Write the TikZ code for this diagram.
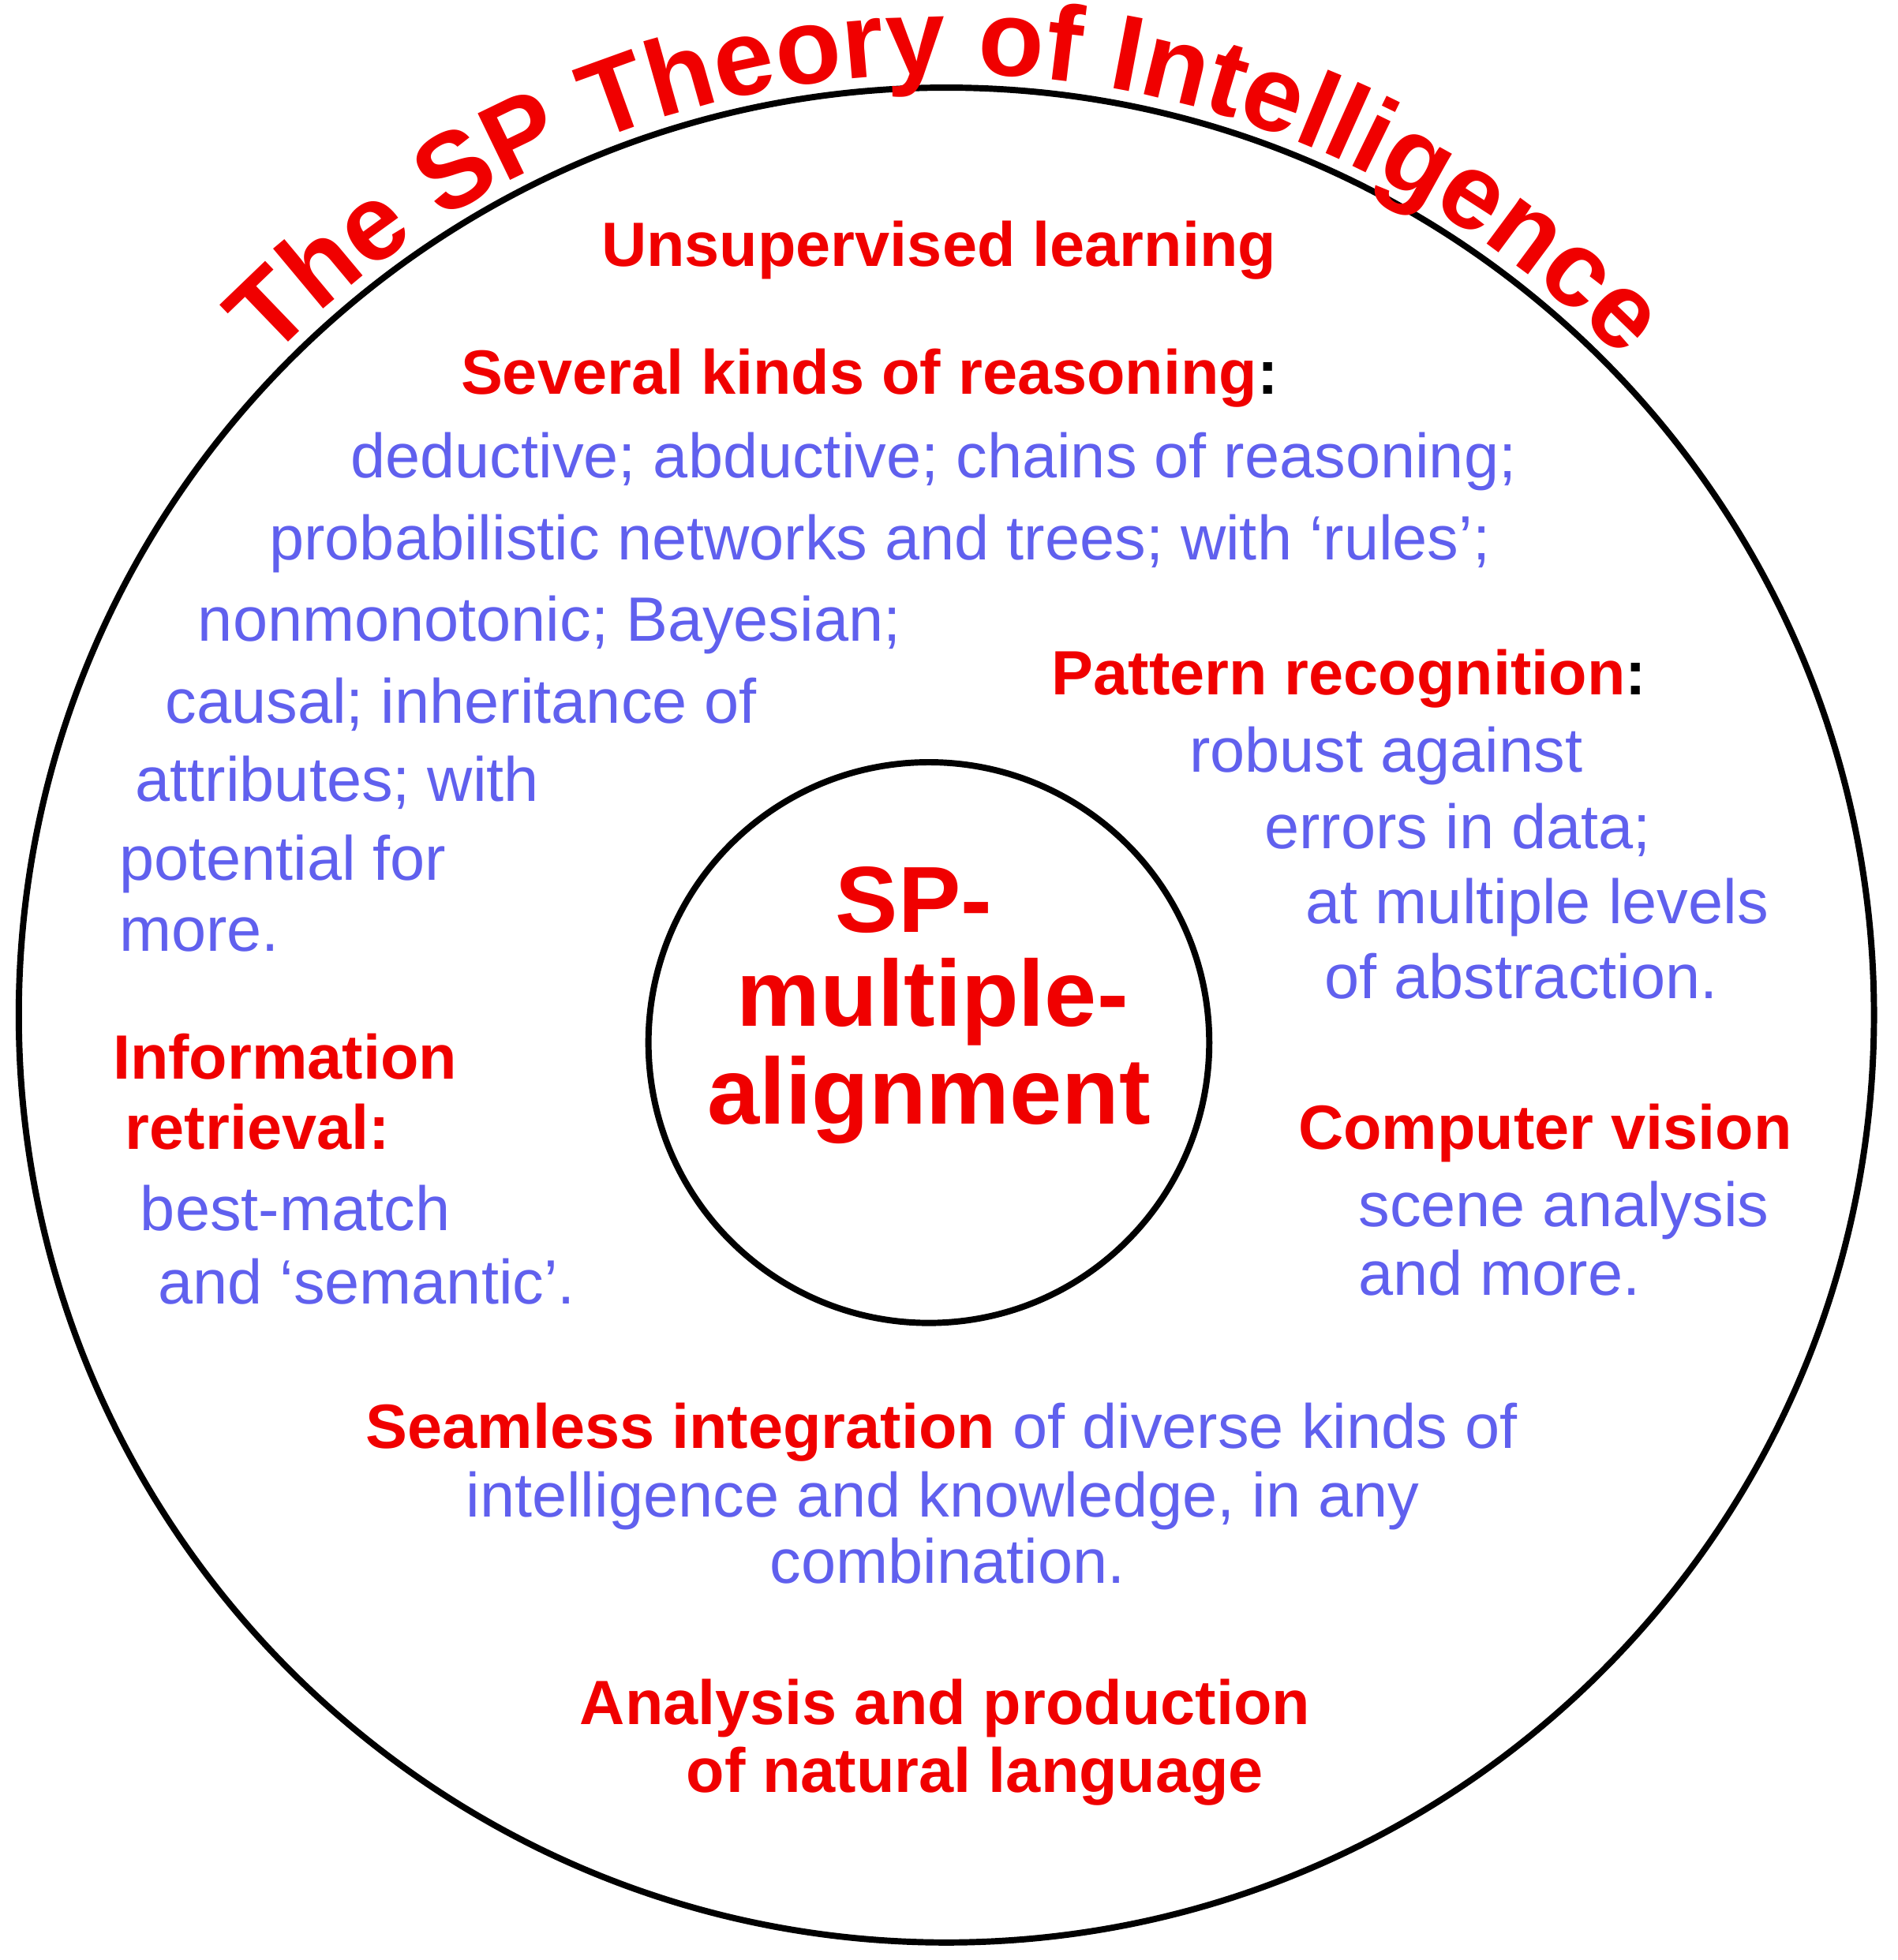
\documentclass[tikz,border=0pt]{standalone}
\usepackage{fontspec}
\setmainfont{Liberation Sans}
\usetikzlibrary{decorations.text}
\definecolor{tred}{RGB}{240,0,0}
\definecolor{tblue}{RGB}{96,96,238}
\newcommand{\bodysz}{\fontsize{50}{56}\selectfont}
\begin{document}
\begin{tikzpicture}[x=1pt,y=-1pt,
  rt/.style={anchor=base west,inner sep=0pt,text=tred,font=\bodysz\bfseries},
  bt/.style={anchor=base west,inner sep=0pt,text=tblue,font=\bodysz},
  ct/.style={anchor=base,inner sep=0pt,text=tred,font=\fontsize{75}{80}\selectfont\bfseries}]
\useasboundingbox (0,0) rectangle (1516,1566);
\coordinate (C) at (756,811);
\node[circle,draw,line width=5pt,minimum size=1482pt,inner sep=0pt] (outer) at (C) {};
\node[circle,draw,line width=5pt,minimum size=448pt,inner sep=0pt] (inner) at (742,833) {};
\path[decorate,decoration={text along path,text align=center,
  text={|\fontsize{86}{90}\selectfont\bfseries\color{tred}|The SP Theory of Intelligence}}]
  ([shift={(142:752pt)}]C) arc[start angle=142,end angle=38,radius=752pt];
\node[rt,anchor=base] (ul) at (750,213) {Unsupervised learning};
\node[rt] (sk) at (368,315) {Several kinds of reasoning\textcolor{black}{:}};
\node[bt] (r1) at (280,382) {deductive; abductive; chains of reasoning;};
\node[bt] (r2) at (215,447) {probabilistic networks and trees; with ‘rules’;};
\node[bt] (r3) at (158,512) {nonmonotonic; Bayesian;};
\node[bt] (r4) at (132,578) {causal; inheritance of};
\node[bt] (r5) at (108,640) {attributes; with};
\node[bt] (r6) at (95,703) {potential for};
\node[bt] (r7) at (95,760) {more.};
\node[rt] (pr) at (840,555) {Pattern recognition\textcolor{black}{:}};
\node[bt] (p1) at (950,617) {robust against};
\node[bt] (p2) at (1010,678) {errors in data;};
\node[bt] (p3) at (1043,738) {at multiple levels};
\node[bt] (p4) at (1058,798) {of abstraction.};
\node[rt] (ir1) at (90,862) {Information};
\node[rt] (ir2) at (100,918) {retrieval:};
\node[bt] (i1) at (112,983) {best-match};
\node[bt] (i2) at (126,1042) {and ‘semantic’.};
\node[rt] (cv) at (1037,918) {Computer vision};
\node[bt] (c1) at (1085,980) {scene analysis};
\node[bt] (c2) at (1085,1035) {and more.};
\node[rt] (si) at (292,1157) {Seamless integration \textcolor{tblue}{\mdseries of diverse kinds of}};
\node[bt] (s2) at (372,1212) {intelligence and knowledge, in any};
\node[bt] (s3) at (615,1265) {combination.};
\node[rt] (an1) at (463,1378) {Analysis and production};
\node[rt] (an2) at (548,1432) {of natural language};
\node[ct] (m1) at (730,745) {SP-};
\node[ct] (m2) at (745,820) {multiple-};
\node[ct] (m3) at (742,898) {alignment};
\end{tikzpicture}
\end{document}
